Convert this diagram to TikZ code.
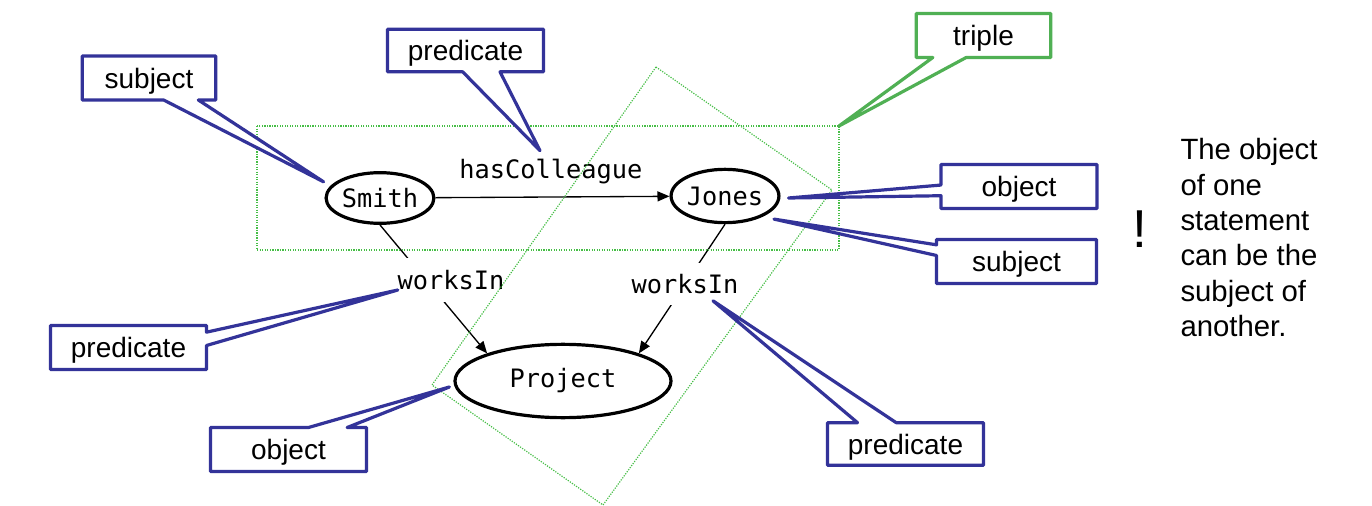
\documentclass[tikz,border=0pt]{standalone}
\usepackage{fontspec}
\setmainfont{Liberation Sans}
\setmonofont{DejaVu Sans Mono}
\usetikzlibrary{shapes.geometric,shapes.callouts,arrows.meta,calc}
\definecolor{calloutblue}{RGB}{51,51,153}
\definecolor{triplegreen}{RGB}{80,176,84}
\definecolor{dotgreen}{RGB}{70,190,70}
\tikzset{every picture/.style={line width=0.75pt}}

\begin{document}
\begin{tikzpicture}[x=0.75pt,y=0.75pt,yscale=-1,xscale=1,
	res/.style={ellipse,draw,line width=2.4pt,inner sep=0pt,font=\ttfamily\fontsize{19}{22}\selectfont},
	prop/.style={inner xsep=4pt,font=\ttfamily\fontsize{19}{22}\selectfont},
	link/.style={line width=1pt,-{Triangle[length=9pt,width=7.5pt]}},
	tripleframe/.style={dotgreen,densely dotted,line width=0.9pt},
	bubble/.style={rectangle callout,draw=calloutblue,fill=white,line width=2.4pt,line join=round,inner sep=0pt,
		text height=17.8pt,text depth=2.1pt,
		minimum width=117pt,minimum height=33pt,font=\fontsize{21}{25}\selectfont}]
	\path[use as bounding box] (0,0) rectangle (1372,506);

	%Shape: Ellipse [Smith]
	\node[res,minimum width=76pt,minimum height=38pt] (smith) at (380,198) {Smith};
	%Shape: Ellipse [Jones]
	\node[res,minimum width=77pt,minimum height=40pt] (jones) at (725,196) {Jones};
	%Shape: Ellipse [Project]
	\node[res,minimum width=162pt,minimum height=55pt] (project) at (563,381) {Project};

	%Straight Lines
	\draw[link] (smith) -- (jones);
	\draw[link] (smith.south) -- (project.160);
	\draw[link] (jones.south) -- (project.20);

	% Text Node
	\node[prop] (has) at (551,172) {hasColleague};
	% Text Node
	\node[prop,fill=white,minimum height=33pt] (wl) at (451,280) {worksIn};
	% Text Node
	\node[prop,fill=white,minimum height=32pt] (wr) at (685,284) {worksIn};

	%Shape: Rectangle [triple, dotted]
	\draw[tripleframe] (257,126) rectangle (839,250);
	\coordinate (tr) at (839,126);
	%Shape: Rotated Rectangle [triple, dotted]
	\draw[tripleframe] (656,67) -- (832,190) -- (603,505) -- (432,385) -- cycle;

	%Callouts
	\node[bubble,minimum width=100pt,callout pointer width=26pt,
		callout absolute pointer={($(smith.160)+(-12,0)$)}] (subjA) at (149,78) {subject};
	\node[bubble,minimum height=32pt,callout pointer width=28pt,
		callout absolute pointer={($(has.north)+(-11,-4)$)}] (predA) at (465.5,50.5) {predicate};
	\node[bubble,draw=triplegreen,minimum width=101pt,callout pointer width=25pt,
		callout absolute pointer={(tr)}] (trip) at (983.5,35.5) {triple};
	\node[bubble,callout pointer width=8pt,
		callout absolute pointer={($(jones.east)+(8,2)$)}] (objA) at (1019,186.5) {object};
	\node[bubble,minimum width=120pt,callout pointer width=8pt,
		callout absolute pointer={($(jones.-25)+(8,4)$)}] (subjB) at (1016.5,261.5) {subject};
	\node[bubble,callout pointer width=10pt,
		callout absolute pointer={($(wl.west)+(6,10)$)}] (predB) at (128.5,347.5) {predicate};
	\node[bubble,callout pointer width=29pt,
		callout absolute pointer={($(project.west)+(-4,6)$)}] (objB) at (288.5,449.5) {object};
	\node[bubble,minimum height=32pt,callout pointer width=29pt,
		callout absolute pointer={($(wr.south)+(28,-5)$)}] (predC) at (905.5,444) {predicate};

	% Text Node
	\node[font=\fontsize{40}{44}\selectfont] (bang) at (1140,229) {!};
	% Text Node
	\node[anchor=north west,align=left,inner sep=0pt,font=\fontsize{22}{26.5}\selectfont] (note) at (1180,138)
		{The object\\of one\\statement\\can be the\\subject of\\another.};

\end{tikzpicture}
\end{document}
